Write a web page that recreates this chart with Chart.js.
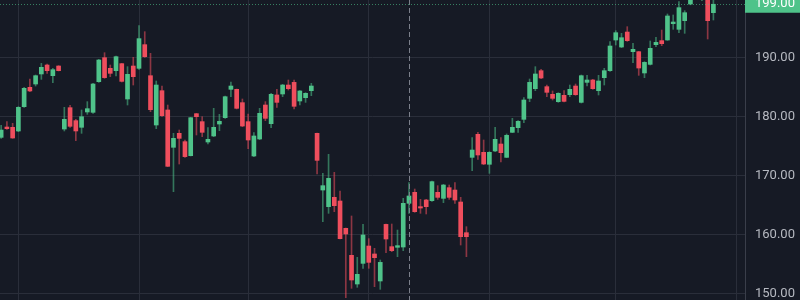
<!DOCTYPE html>
<html>
<head>
<meta charset="utf-8">
<script src="https://cdn.jsdelivr.net/npm/chart.js@4"></script>
<style>
  html, body { margin: 0; padding: 0; background: #161a25; }
  #wrap { width: 800px; height: 300px; }
</style>
</head>
<body>
<div id="wrap"><canvas id="chart"></canvas></div>
<script>
// daily candles
const OPEN = [176.44,178.19,178.14,177.52,181.64,184.92,185.48,187.18,188.70,186.89,188.53,177.85,181.47,179.27,178.14,180.74,180.68,185.88,189.94,188.14,187.74,188.93,182.94,188.53,188.14,192.15,186.89,178.53,184.35,181.08,174.75,177.12,175.71,173.33,180.45,179.10,175.65,176.67,178.70,179.77,184.58,184.58,182.32,179.10,173.28,176.16,181.92,178.76,183.62,183.79,185.31,185.76,182.60,183.16,184.35,177.12,167.51,164.69,166.27,165.65,161.02,156.44,151.58,155.08,158.02,156.67,152.09,161.69,157.91,157.80,157.85,165.26,167.12,164.69,165.82,165.71,167.12,166.10,167.91,167.51,165.48,160.28,173.05,176.95,173.90,171.87,174.13,175.31,173.05,177.29,178.08,179.49,183.05,184.69,187.74,185.03,183.73,182.49,183.56,183.67,185.14,182.37,185.76,186.16,184.35,186.55,187.74,192.94,191.75,194.29,190.96,190.96,187.35,188.81,192.15,192.83,192.94,195.71,194.75,196.22,199.04,200.60,201.90,202.00,197.57];
const HIGH = [178.48,179.10,178.82,181.64,184.92,186.33,187.01,188.98,188.87,188.14,188.59,181.53,181.87,179.49,181.08,182.49,185.59,189.66,190.79,188.70,190.23,188.98,188.42,190.00,195.37,194.35,190.68,185.99,185.14,181.92,177.12,177.68,175.99,179.83,180.51,179.94,178.08,181.36,180.34,183.45,185.82,184.63,182.94,180.40,177.23,181.36,182.49,183.90,184.58,185.43,186.16,186.16,184.35,184.01,185.59,177.18,170.34,173.56,170.51,167.34,161.07,163.11,156.10,161.69,159.27,157.63,155.65,161.75,161.75,160.73,166.10,168.76,167.68,165.93,165.93,169.04,168.25,168.48,168.36,168.76,166.27,161.30,176.38,177.29,175.99,174.01,178.14,176.38,177.01,179.66,179.27,183.16,186.33,188.42,187.97,185.31,184.30,184.01,184.35,185.31,185.48,187.01,186.95,186.27,186.95,188.14,192.66,194.52,194.07,195.20,192.37,191.02,189.27,192.77,193.39,194.63,197.35,197.18,199.44,197.91,201.20,202.40,203.00,203.20,199.90];
const LOW = [176.27,177.80,176.27,177.40,181.53,184.18,185.14,186.27,187.29,185.71,187.69,177.52,178.14,175.88,177.12,180.34,180.51,185.76,186.44,186.72,186.84,185.82,181.92,185.31,187.97,190.00,180.79,177.91,180.00,171.47,167.23,171.92,173.05,173.28,176.84,176.55,175.31,176.55,177.57,179.66,183.33,181.25,178.25,174.52,173.17,176.05,179.27,178.08,181.53,183.33,184.46,181.25,181.92,182.37,183.50,170.23,162.15,163.56,163.84,159.21,149.26,150.85,151.02,154.24,154.24,151.13,150.68,156.89,157.06,156.21,157.23,163.56,163.73,163.56,163.45,165.59,165.93,165.37,165.93,165.26,158.19,156.21,170.79,172.71,171.81,170.34,174.01,172.26,173.00,177.23,177.29,178.93,182.49,184.35,186.38,183.33,182.77,182.37,182.43,183.33,183.56,182.26,185.14,184.58,183.62,185.31,187.63,192.09,191.64,192.71,189.10,186.95,186.55,188.70,191.81,191.98,192.88,194.75,194.18,194.07,198.90,200.00,199.60,193.11,196.33];
const CLOSE = [177.68,177.91,176.33,181.53,184.75,184.30,186.89,188.31,187.74,187.91,187.74,179.49,178.31,177.52,179.94,181.30,185.48,189.55,186.56,187.29,190.11,185.93,187.12,186.72,193.17,190.11,181.13,185.31,180.11,171.53,176.27,176.27,173.17,179.77,179.94,177.29,176.10,178.14,179.15,183.33,185.14,181.36,178.36,175.99,176.67,180.51,179.66,183.73,182.37,185.31,184.69,181.70,184.30,183.90,185.14,172.54,168.25,169.49,164.86,159.27,160.06,152.26,153.22,159.89,155.25,156.04,155.25,159.21,157.23,158.08,165.26,166.50,163.84,164.46,164.69,168.93,166.27,168.36,166.27,165.82,159.60,159.60,174.29,173.45,171.92,173.90,176.10,173.84,176.78,178.14,179.15,182.77,185.76,187.18,186.50,184.07,183.05,183.90,182.54,184.58,183.67,186.89,186.16,184.69,185.99,187.74,191.92,194.18,193.33,192.83,191.36,188.19,189.15,191.53,192.54,192.32,197.01,195.99,198.42,197.57,200.60,201.80,202.30,196.22,199.00];

const PRICE_TICKS = [150, 160, 170, 180, 190];
const MONTH_STARTS = [3, 24, 43, 64, 85, 107, 128];   // candle index of each vertical grid line
const CROSSHAIR_AT = 71;

const UP = '#4fc38a';
const DOWN = '#ef4e5d';
const UP_WICK = 'rgba(79,195,138,0.55)';
const DOWN_WICK = 'rgba(239,78,93,0.55)';
const GRID = '#2a2e3a';

let isUp = i => CLOSE[i] >= OPEN[i];

let bodies = OPEN.map((o, i) => ({ x: i, y: [o, CLOSE[i]] }));
let wicks = LOW.map((l, i) => ({ x: i, y: [l, HIGH[i]] }));

const background = {
  id: 'background',
  beforeDraw(chart) {
    let ctx = chart.ctx;
    ctx.save();
    ctx.fillStyle = '#161a25';
    ctx.fillRect(0, 0, chart.width, chart.height);
    ctx.restore();
  }
};

// dashed crosshair + last price line and its label
const overlays = {
  id: 'overlays',
  afterDatasetsDraw(chart) {
    let { ctx, chartArea, scales } = chart;
    let cx = scales.x.getPixelForValue(CROSSHAIR_AT);
    ctx.save();
    ctx.strokeStyle = '#7b7f8a';
    ctx.lineWidth = 1;
    ctx.setLineDash([5, 3]);
    ctx.beginPath();
    ctx.moveTo(Math.round(cx) + 0.5, chartArea.top);
    ctx.lineTo(Math.round(cx) + 0.5, chartArea.bottom);
    ctx.stroke();

    let last = CLOSE[CLOSE.length - 1];
    let py = scales.y.getPixelForValue(last);
    ctx.strokeStyle = UP;
    ctx.globalAlpha = 0.6;
    ctx.setLineDash([1, 2]);
    ctx.beginPath();
    ctx.moveTo(chartArea.left, Math.round(py) + 0.5);
    ctx.lineTo(chartArea.right, Math.round(py) + 0.5);
    ctx.stroke();
    ctx.globalAlpha = 1;
    ctx.setLineDash([]);

    ctx.fillStyle = UP;
    ctx.fillRect(chartArea.right, py - 8.5, chart.width - chartArea.right, 17);
    ctx.fillStyle = '#ffffff';
    ctx.font = '13px Roboto';
    ctx.textBaseline = 'middle';
    ctx.textAlign = 'left';
    ctx.fillText(last.toFixed(2), chartArea.right + 10, py);
    ctx.restore();
  }
};

new Chart(document.getElementById('chart'), {
  type: 'bar',
  data: {
    datasets: [{
      data: bodies,
      backgroundColor: c => isUp(c.dataIndex) ? UP : DOWN,
      barThickness: 4,
      minBarLength: 1,
      grouped: false
    }, {
      data: wicks,
      backgroundColor: c => isUp(c.dataIndex) ? UP_WICK : DOWN_WICK,
      barThickness: 1,
      grouped: false
    }]
  },
  options: {
    responsive: true,
    maintainAspectRatio: false,
    animation: false,
    layout: { padding: 0 },
    plugins: {
      legend: { display: false },
      tooltip: { enabled: false }
    },
    scales: {
      x: {
        type: 'linear',
        min: -0.2,
        max: 129.5,
        offset: false,
        grid: { color: GRID, drawTicks: false, offset: false },
        border: { display: false },
        ticks: { display: false },
        afterBuildTicks: axis => { axis.ticks = MONTH_STARTS.map(v => ({ value: v })); },
        afterFit: axis => { axis.height = 0; }
      },
      y: {
        position: 'right',
        min: 148.87,
        max: 199.72,
        grid: { color: GRID, drawTicks: false },
        border: { display: true, color: '#3a3e4a' },
        ticks: {
          color: '#b6b9c1',
          padding: 10,
          font: { family: 'Roboto', size: 13 },
          callback: v => v.toFixed(2)
        },
        afterBuildTicks: axis => { axis.ticks = PRICE_TICKS.map(v => ({ value: v })); },
        afterFit: axis => {
          axis.width = 55;
          axis.paddingTop = 0;
          axis.paddingBottom = 0;
        }
      }
    }
  },
  plugins: [background, overlays]
});
</script>
</body>
</html>
